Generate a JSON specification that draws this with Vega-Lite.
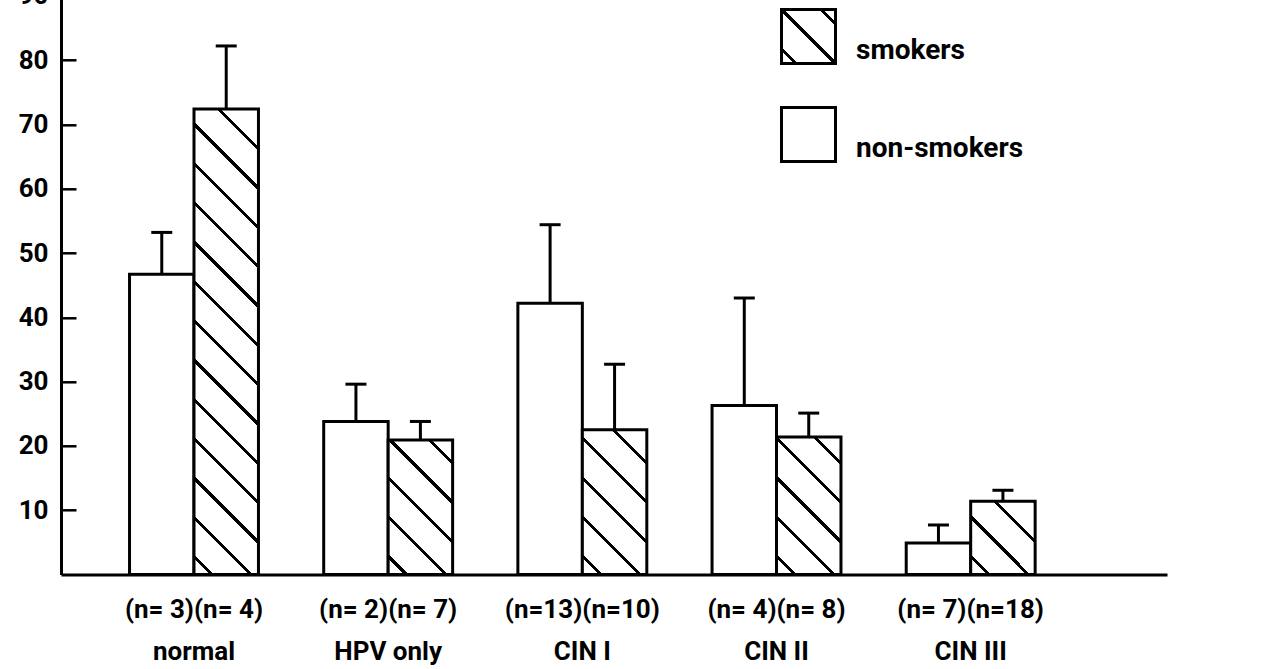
{
  "$schema": "https://vega.github.io/schema/vega-lite/v6.json",
  "width": 1106,
  "height": 578.7,
  "autosize": {"type": "none"},
  "padding": {"top": -4.2, "left": 61, "right": 119, "bottom": 94.5},
  "background": "white",
  "config": {
    "view": {"stroke": null},
    "font": "Roboto",
    "axisY": {
      "ticks": false, "tickSize": 0,
      "grid": true, "gridColor": "black", "gridWidth": 2.5, "gridDash": [15, 3000], "gridOpacity": 1,
      "domainColor": "black", "domainWidth": 3,
      "labelFontSize": 26, "labelFontWeight": "bold", "labelColor": "black",
      "labelFont": "Roboto", "labelPadding": 13
    },
    "axisX": {
      "domainColor": "black", "domainWidth": 3, "ticks": false,
      "labelFontSize": 26, "labelFontWeight": "bold", "labelColor": "black",
      "labelFont": "Roboto",
      "labelAngle": 0, "labelPadding": 22, "labelBaseline": "top",
      "labelLineHeight": 42, "labelLimit": 400, "labelOverlap": false, "grid": false
    }
  },
  "data": {
    "values": [
      {"category": "normal", "label": "(n= 3)(n= 4)|normal", "group": "non-smokers", "value": 46.7, "upper": 53.2},
      {"category": "normal", "label": "(n= 3)(n= 4)|normal", "group": "smokers", "value": 72.4, "upper": 82.2},
      {"category": "HPV only", "label": "(n= 2)(n= 7)|HPV only", "group": "non-smokers", "value": 23.8, "upper": 29.6},
      {"category": "HPV only", "label": "(n= 2)(n= 7)|HPV only", "group": "smokers", "value": 20.9, "upper": 23.8},
      {"category": "CIN I", "label": "(n=13)(n=10)|CIN I", "group": "non-smokers", "value": 42.2, "upper": 54.4},
      {"category": "CIN I", "label": "(n=13)(n=10)|CIN I", "group": "smokers", "value": 22.5, "upper": 32.7},
      {"category": "CIN II", "label": "(n= 4)(n= 8)|CIN II", "group": "non-smokers", "value": 26.3, "upper": 43.0},
      {"category": "CIN II", "label": "(n= 4)(n= 8)|CIN II", "group": "smokers", "value": 21.4, "upper": 25.1},
      {"category": "CIN III", "label": "(n= 7)(n=18)|CIN III", "group": "non-smokers", "value": 4.9, "upper": 7.7},
      {"category": "CIN III", "label": "(n= 7)(n=18)|CIN III", "group": "smokers", "value": 11.4, "upper": 13.1}
    ]
  },
  "encoding": {
    "x": {
      "field": "label", "type": "nominal", "sort": null,
      "scale": {"paddingInner": 0.336, "paddingOuter": 0.516, "align": 0.342},
      "axis": {"title": null, "labelExpr": "split(datum.label, '|')"}
    },
    "xOffset": {
      "field": "group", "type": "nominal",
      "scale": {"domain": ["non-smokers", "smokers"], "paddingInner": 0, "paddingOuter": 0}
    }
  },
  "layer": [
    {
      "mark": {"type": "bar", "stroke": "black", "strokeWidth": 3, "opacity": 1},
      "encoding": {
        "y": {
          "field": "value", "type": "quantitative",
          "scale": {"domain": [0, 90], "nice": false},
          "axis": {"title": null, "values": [10, 20, 30, 40, 50, 60, 70, 80, 90]}
        },
        "fill": {
          "field": "group", "type": "nominal",
          "scale": {
            "domain": ["smokers", "non-smokers"],
            "range": [
              {"expr": "{gradient: 'linear', x1: 0, y1: 1, x2: 1, y2: 0, stops: [{offset: 0, color: 'white'}, {offset: 0.1165, color: 'white'}, {offset: 0.1165, color: 'black'}, {offset: 0.1558, color: 'black'}, {offset: 0.1558, color: 'white'}, {offset: 0.4804, color: 'white'}, {offset: 0.4804, color: 'black'}, {offset: 0.5196, color: 'black'}, {offset: 0.5196, color: 'white'}, {offset: 0.8442, color: 'white'}, {offset: 0.8442, color: 'black'}, {offset: 0.8835, color: 'black'}, {offset: 0.8835, color: 'white'}, {offset: 1, color: 'white'}]}"},
              "white"
            ]
          },
          "legend": {
            "orient": "none", "legendX": 719, "legendY": 12.2, "title": null,
            "symbolType": "square", "symbolSize": 2916,
            "symbolStrokeColor": "black", "symbolStrokeWidth": 3,
            "labelFontSize": 28, "labelColor": "black", "labelFontWeight": "bold",
            "labelFont": "Roboto",
            "labelOffset": 19, "labelBaseline": "top", "rowPadding": 31, "padding": 0, "labelLimit": 400
          },
          "condition": [
            {"test": "datum.group === 'smokers' && datum.category === 'normal'", "value":
              {"gradient": "linear", "x1": 0, "y1": 1, "x2": 0.1548, "y2": -0.1172, "stops": [
                {"offset": 0, "color": "white"},
                {"offset": 0.0299, "color": "white"}, {"offset": 0.0299, "color": "black"}, {"offset": 0.0379, "color": "black"}, {"offset": 0.0379, "color": "white"},
                {"offset": 0.1041, "color": "white"}, {"offset": 0.1041, "color": "black"}, {"offset": 0.1121, "color": "black"}, {"offset": 0.1121, "color": "white"},
                {"offset": 0.1782, "color": "white"}, {"offset": 0.1782, "color": "black"}, {"offset": 0.1862, "color": "black"}, {"offset": 0.1862, "color": "white"},
                {"offset": 0.2524, "color": "white"}, {"offset": 0.2524, "color": "black"}, {"offset": 0.2604, "color": "black"}, {"offset": 0.2604, "color": "white"},
                {"offset": 0.3266, "color": "white"}, {"offset": 0.3266, "color": "black"}, {"offset": 0.3346, "color": "black"}, {"offset": 0.3346, "color": "white"},
                {"offset": 0.4008, "color": "white"}, {"offset": 0.4008, "color": "black"}, {"offset": 0.4088, "color": "black"}, {"offset": 0.4088, "color": "white"},
                {"offset": 0.4749, "color": "white"}, {"offset": 0.4749, "color": "black"}, {"offset": 0.4829, "color": "black"}, {"offset": 0.4829, "color": "white"},
                {"offset": 0.5491, "color": "white"}, {"offset": 0.5491, "color": "black"}, {"offset": 0.5571, "color": "black"}, {"offset": 0.5571, "color": "white"},
                {"offset": 0.6233, "color": "white"}, {"offset": 0.6233, "color": "black"}, {"offset": 0.6313, "color": "black"}, {"offset": 0.6313, "color": "white"},
                {"offset": 0.6974, "color": "white"}, {"offset": 0.6974, "color": "black"}, {"offset": 0.7054, "color": "black"}, {"offset": 0.7054, "color": "white"},
                {"offset": 0.7716, "color": "white"}, {"offset": 0.7716, "color": "black"}, {"offset": 0.7796, "color": "black"}, {"offset": 0.7796, "color": "white"},
                {"offset": 0.8458, "color": "white"}, {"offset": 0.8458, "color": "black"}, {"offset": 0.8538, "color": "black"}, {"offset": 0.8538, "color": "white"},
                {"offset": 0.9200, "color": "white"}, {"offset": 0.9200, "color": "black"}, {"offset": 0.9280, "color": "black"}, {"offset": 0.9280, "color": "white"},
                {"offset": 0.9941, "color": "white"}, {"offset": 0.9941, "color": "black"}, {"offset": 1, "color": "black"}
              ]}
            },
            {"test": "datum.group === 'smokers' && datum.category === 'HPV only'", "value":
              {"gradient": "linear", "x1": 0, "y1": 1, "x2": 0.5773, "y2": -0.2029, "stops": [
                {"offset": 0, "color": "white"},
                {"offset": 0.0818, "color": "white"}, {"offset": 0.0818, "color": "black"}, {"offset": 0.1031, "color": "black"}, {"offset": 0.1031, "color": "white"},
                {"offset": 0.2795, "color": "white"}, {"offset": 0.2795, "color": "black"}, {"offset": 0.3009, "color": "black"}, {"offset": 0.3009, "color": "white"},
                {"offset": 0.4772, "color": "white"}, {"offset": 0.4772, "color": "black"}, {"offset": 0.4986, "color": "black"}, {"offset": 0.4986, "color": "white"},
                {"offset": 0.6750, "color": "white"}, {"offset": 0.6750, "color": "black"}, {"offset": 0.6963, "color": "black"}, {"offset": 0.6963, "color": "white"},
                {"offset": 0.8727, "color": "white"}, {"offset": 0.8727, "color": "black"}, {"offset": 0.8940, "color": "black"}, {"offset": 0.8940, "color": "white"},
                {"offset": 1, "color": "white"}
              ]}
            },
            {"test": "datum.group === 'smokers' && datum.category === 'CIN I'", "value":
              {"gradient": "linear", "x1": 0, "y1": 1, "x2": 0.5376, "y2": -0.2061, "stops": [
                {"offset": 0, "color": "white"},
                {"offset": 0.0778, "color": "white"}, {"offset": 0.0778, "color": "black"}, {"offset": 0.0980, "color": "black"}, {"offset": 0.0980, "color": "white"},
                {"offset": 0.2657, "color": "white"}, {"offset": 0.2657, "color": "black"}, {"offset": 0.2860, "color": "black"}, {"offset": 0.2860, "color": "white"},
                {"offset": 0.4537, "color": "white"}, {"offset": 0.4537, "color": "black"}, {"offset": 0.4740, "color": "black"}, {"offset": 0.4740, "color": "white"},
                {"offset": 0.6417, "color": "white"}, {"offset": 0.6417, "color": "black"}, {"offset": 0.6619, "color": "black"}, {"offset": 0.6619, "color": "white"},
                {"offset": 0.8296, "color": "white"}, {"offset": 0.8296, "color": "black"}, {"offset": 0.8499, "color": "black"}, {"offset": 0.8499, "color": "white"},
                {"offset": 1, "color": "white"}
              ]}
            },
            {"test": "datum.group === 'smokers' && datum.category === 'CIN II'", "value":
              {"gradient": "linear", "x1": 0, "y1": 1, "x2": 0.5645, "y2": -0.2042, "stops": [
                {"offset": 0, "color": "white"},
                {"offset": 0.0805, "color": "white"}, {"offset": 0.0805, "color": "black"}, {"offset": 0.1015, "color": "black"}, {"offset": 0.1015, "color": "white"},
                {"offset": 0.2750, "color": "white"}, {"offset": 0.2750, "color": "black"}, {"offset": 0.2960, "color": "black"}, {"offset": 0.2960, "color": "white"},
                {"offset": 0.4696, "color": "white"}, {"offset": 0.4696, "color": "black"}, {"offset": 0.4906, "color": "black"}, {"offset": 0.4906, "color": "white"},
                {"offset": 0.6641, "color": "white"}, {"offset": 0.6641, "color": "black"}, {"offset": 0.6851, "color": "black"}, {"offset": 0.6851, "color": "white"},
                {"offset": 0.8586, "color": "white"}, {"offset": 0.8586, "color": "black"}, {"offset": 0.8796, "color": "black"}, {"offset": 0.8796, "color": "white"},
                {"offset": 1, "color": "white"}
              ]}
            },
            {"test": "datum.group === 'smokers' && datum.category === 'CIN III'", "value":
              {"gradient": "linear", "x1": 0, "y1": 1, "x2": 0.9324, "y2": -0.0595, "stops": [
                {"offset": 0, "color": "white"},
                {"offset": 0.1181, "color": "white"}, {"offset": 0.1181, "color": "black"}, {"offset": 0.1489, "color": "black"}, {"offset": 0.1489, "color": "white"},
                {"offset": 0.4035, "color": "white"}, {"offset": 0.4035, "color": "black"}, {"offset": 0.4343, "color": "black"}, {"offset": 0.4343, "color": "white"},
                {"offset": 0.6889, "color": "white"}, {"offset": 0.6889, "color": "black"}, {"offset": 0.7197, "color": "black"}, {"offset": 0.7197, "color": "white"},
                {"offset": 0.9743, "color": "white"}, {"offset": 0.9743, "color": "black"}, {"offset": 1, "color": "black"}
              ]}
            }
          ]
        }
      }
    },
    {
      "mark": {"type": "rule", "strokeWidth": 3, "color": "black"},
      "encoding": {
        "y": {"field": "value", "type": "quantitative", "axis": {"title": null, "values": [10, 20, 30, 40, 50, 60, 70, 80, 90]}},
        "y2": {"field": "upper"}
      }
    },
    {
      "mark": {"type": "tick", "thickness": 3, "size": 21, "color": "black", "opacity": 1},
      "encoding": {
        "y": {"field": "upper", "type": "quantitative", "axis": {"title": null, "values": [10, 20, 30, 40, 50, 60, 70, 80, 90]}}
      }
    }
  ]
}
